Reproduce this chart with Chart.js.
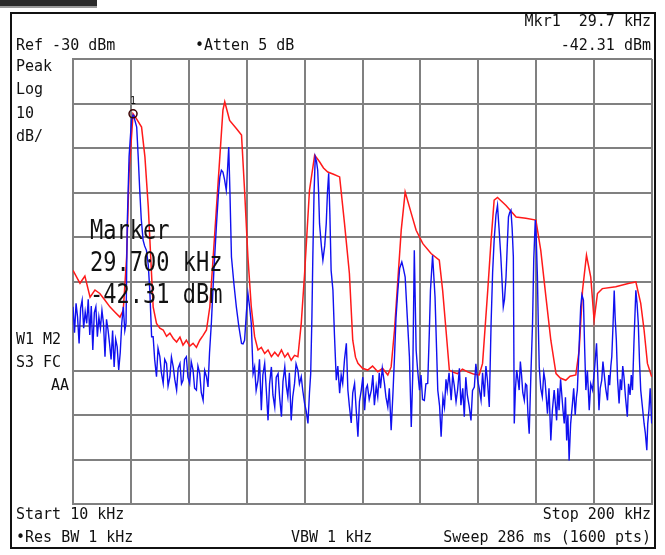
<!DOCTYPE html>
<html>
<head>
<meta charset="utf-8">
<script src="https://cdn.jsdelivr.net/npm/chart.js@4/dist/chart.umd.min.js"></script>
<style>
  html, body { margin: 0; padding: 0; background: #fff; }
  #wrap { width: 665px; height: 555px; }
</style>
</head>
<body>
<div id="wrap"><canvas id="spectrum" width="665" height="555"></canvas></div>
<script>
// frequency grid (kHz) and level grid (dBm)
const freqTicks = [10, 29, 48, 67, 86, 105, 124, 143, 162, 181, 200];
const levelTicks = [-130, -120, -110, -100, -90, -80, -70, -60, -50, -40, -30];

// max hold trace (red)
const redFreq = [10.0, 12.3, 13.9, 15.6, 17.2, 18.8, 20.5, 22.1, 23.8, 25.4, 26.5, 27.6, 28.4, 29.7, 30.9, 32.5, 33.6, 34.7, 35.5, 36.3,
  37.4, 38.5, 39.6, 40.7, 41.8, 42.9, 44.0, 45.1, 46.1, 47.2, 48.3, 49.4, 50.5, 51.6, 52.7, 53.8, 54.9, 56.0, 57.6, 59.2,
  59.8, 61.4, 63.6, 65.3, 66.3, 67.4, 68.5, 69.6, 70.7, 71.8, 72.9, 74.0, 75.1, 76.2, 77.3, 78.4, 79.5, 80.5, 81.6, 82.7,
  83.8, 84.9, 86.0, 87.6, 89.3, 90.9, 92.2, 93.6, 95.5, 97.5, 99.1, 100.7, 101.8, 102.7, 103.5, 105.0, 106.7, 108.3, 110.0, 111.6,
  113.3, 114.4, 115.5, 116.6, 117.7, 119.0, 121.0, 122.6, 124.8, 127.5, 130.2, 131.3, 132.4, 133.5, 134.8, 136.2, 137.8, 139.5, 141.4, 143.3,
  144.4, 146.1, 147.2, 148.2, 149.3, 152.1, 155.4, 158.6, 161.9, 163.5, 165.2, 166.8, 168.5, 169.9, 171.7, 173.1, 175.0, 176.1, 177.2, 178.5,
  179.9, 181.0, 182.1, 183.7, 188.1, 192.5, 194.7, 196.3, 197.4, 198.5, 199.9];
const redLevel = [-77.5, -80.4, -78.8, -83.5, -81.9, -82.7, -84.2, -85.7, -86.9, -88.0, -86.4, -74.5, -55.7, -42.3, -43.5, -45.3, -52.0, -63.2, -74.5, -85.7,
  -89.4, -90.5, -90.9, -92.3, -91.6, -92.8, -93.6, -92.5, -94.3, -93.2, -94.5, -93.9, -94.8, -93.2, -92.1, -90.9, -85.7, -74.5, -58.0, -41.5,
  -39.6, -43.8, -45.6, -47.1, -59.5, -74.5, -85.7, -92.4, -95.4, -94.8, -96.2, -95.4, -96.9, -95.9, -96.8, -95.4, -97.0, -96.1, -97.7, -96.6,
  -96.9, -89.4, -78.2, -59.5, -51.6, -53.1, -54.5, -55.4, -55.9, -56.5, -67.0, -78.2, -93.2, -97.0, -98.4, -99.5, -99.9, -99.0, -100.3, -99.5,
  -101.0, -99.2, -90.9, -79.7, -68.5, -59.9, -64.7, -68.5, -71.5, -73.7, -75.2, -82.0, -90.9, -99.9, -100.4, -100.7, -99.7, -100.3, -100.8, -101.0,
  -98.4, -82.0, -70.7, -61.7, -61.1, -62.9, -65.5, -65.8, -66.2, -73.0, -83.5, -93.2, -100.7, -101.7, -102.2, -101.3, -101.0, -95.4, -82.0, -74.1,
  -79.0, -88.7, -82.7, -81.6, -81.2, -80.4, -80.1, -84.9, -90.9, -98.4, -101.4];

// clear write trace (blue)
const blueFreq = [
  10.0, 10.5, 11.0, 11.5, 12.0, 12.5, 13.0, 13.5, 14.0, 14.5, 15.0, 15.5, 16.0, 16.5, 17.0, 17.5, 18.0, 18.5, 19.0, 19.5,
  20.0, 20.5, 21.0, 21.5, 22.0, 22.5, 23.0, 23.5, 24.0, 24.5, 25.0, 25.5, 26.0, 26.5, 27.0, 27.4,
  27.8, 28.4, 29.2, 29.7, 30.0, 30.9, 31.4, 31.9, 32.4, 33.0, 33.5, 34.1, 34.7, 35.2, 35.8,
  36.3, 36.8, 37.4, 37.9, 38.5, 39.0, 39.6, 40.1, 40.7, 41.2, 41.8, 42.3, 42.9, 43.4, 44.0, 44.5, 45.1, 45.6, 46.1, 46.6,
  47.2, 47.7, 48.3, 48.8, 49.4, 49.9, 50.5, 51.0, 51.6, 52.1, 52.7, 53.2, 53.8, 54.3,
  54.8, 55.4, 56.2, 57.1, 57.7, 58.2, 58.7, 59.2, 59.7, 60.3, 60.7, 61.1, 61.5, 62.0, 62.8, 63.6, 64.4, 65.3, 65.8, 66.3,
  66.9, 67.4, 68.0, 68.5, 69.1,
  69.6, 70.1, 70.7, 71.2, 71.8, 72.3, 72.9, 73.4, 74.0, 74.5, 75.1, 75.6, 76.2, 76.7, 77.3, 77.8, 78.4, 78.9, 79.5, 80.0,
  80.5, 81.0, 81.6, 82.1, 82.7, 83.2, 83.8, 84.3, 84.9, 85.4, 86.0, 86.5, 87.1, 87.6, 88.0,
  88.4, 88.7, 89.1, 89.5, 89.9, 90.3, 90.6, 90.9, 91.5, 92.0, 92.6, 93.1, 93.5, 93.9, 94.3, 94.7, 95.3, 95.8, 96.4,
  96.9, 97.5, 98.0, 98.5, 99.1, 99.7, 100.2, 100.7, 101.3, 101.8, 102.4, 102.9, 103.5, 104.0, 104.6, 105.1, 105.7, 106.2, 106.6, 107.2,
  107.9, 108.4, 108.9, 109.5, 110.0, 110.5, 110.9, 111.5, 112.2, 112.7, 113.3, 113.8, 114.4,
  115.0, 115.5, 116.0, 116.6, 117.2, 117.9, 118.4, 119.0, 119.7, 120.4, 121.0, 121.5, 122.0, 122.6, 123.1, 123.7, 124.2, 124.7, 125.3, 125.8,
  126.4, 126.9, 127.3, 128.0, 128.8, 129.3, 129.7, 130.3, 130.8,
  131.4, 131.9, 132.4, 132.8, 133.4, 134.1, 134.6, 135.1, 135.7, 136.2, 136.8, 137.3, 137.9, 138.4, 138.9, 139.4, 140.0, 140.6, 141.1, 141.7,
  142.2, 142.8, 143.3, 143.9, 144.4, 145.0, 145.5, 146.0, 146.6,
  147.2, 147.7, 148.2, 148.8, 149.3, 149.8, 150.4, 150.8, 151.2, 151.6, 152.1, 152.5, 152.9, 153.3, 153.7, 154.1, 154.5, 154.8, 155.2, 155.6,
  156.0, 156.4, 156.8, 157.2, 157.6, 158.1, 158.5, 158.9, 159.3, 159.7, 160.3, 160.8, 161.2, 161.7, 162.0, 162.4, 162.7, 163.0,
  163.5, 164.0, 164.5, 164.9, 165.3, 165.7, 166.2, 166.8, 167.3, 167.9, 168.3, 168.7, 169.1, 169.5, 170.0, 170.4, 170.8, 171.2, 171.6, 172.0,
  172.4, 172.8, 173.3, 173.9, 174.3, 174.8, 175.2, 175.5, 176.0,
  176.6, 177.0, 177.5, 177.9, 178.3, 178.8, 179.4, 179.9, 180.5, 181.1, 181.8, 182.2, 182.6, 183.0, 183.5, 183.9, 184.3, 184.8, 185.4, 185.8,
  186.1, 186.5, 186.8, 187.2, 187.6, 187.9, 188.3, 188.7, 189.2, 189.6, 190.0, 190.4, 190.8, 191.3, 191.9, 192.3, 192.8, 193.2, 193.6, 194.1,
  194.7, 195.1, 195.5, 195.9, 196.3, 196.8, 197.4, 197.8, 198.3, 198.6, 199.0, 199.4, 199.9];
const blueLevel = [
  -85.7, -91.5, -84.9, -88.0, -93.9, -86.0, -84.2, -90.5, -86.8, -89.4, -84.0, -92.0, -85.5, -95.4, -87.0, -85.7, -92.4, -88.0, -90.5, -86.5,
  -89.4, -96.9, -88.5, -90.9, -94.0, -97.5, -91.0, -99.2, -93.0, -94.7, -99.9, -96.0, -89.4, -85.7, -91.0, -89.4,
  -67.0, -52.0, -43.8, -42.6, -43.0, -45.3, -52.0, -59.5, -66.0, -70.7, -72.0, -73.0, -76.3, -82.0, -92.4,
  -92.4, -97.5, -101.4, -95.0, -96.9, -100.5, -102.9, -97.5, -98.4, -103.5, -101.4, -97.0, -99.2, -102.0, -104.4, -99.5, -98.4, -103.0, -102.2, -97.5,
  -96.9, -101.5, -102.9, -98.0, -99.9, -104.0, -104.4, -99.0, -100.7, -105.0, -106.7, -100.0, -101.4, -103.7,
  -96.0, -89.4, -78.0, -67.0, -60.5, -56.5, -55.0, -55.4, -57.0, -59.5, -55.0, -49.8, -60.0, -74.5, -80.5, -85.7, -90.0, -93.9, -94.0, -93.2,
  -87.0, -82.7, -86.0, -89.4, -100.7,
  -99.2, -104.5, -102.2, -97.5, -108.9, -101.0, -98.4, -104.0, -111.2, -103.0, -99.2, -105.5, -108.2, -101.5, -100.7, -106.0, -110.4, -102.5, -99.2, -103.5,
  -105.9, -100.5, -111.2, -106.0, -102.9, -98.5, -99.9, -103.0, -101.4, -104.5, -107.4, -109.0, -111.9, -105.0, -100.7,
  -88.0, -74.5, -60.0, -52.0, -53.0, -55.0, -60.0, -67.0, -72.0, -75.2, -72.0, -67.0, -60.0, -55.7, -65.0, -77.5, -82.0, -92.0, -102.2,
  -99.0, -105.1, -101.0, -102.9, -97.5, -93.9, -104.4, -108.0, -111.8, -105.0, -102.9, -108.5, -114.9, -107.0, -104.4, -101.5, -108.9, -104.0, -103.3, -106.5,
  -104.4, -101.0, -107.8, -103.5, -105.9, -100.5, -104.0, -99.5, -102.9, -106.0, -108.2, -104.0, -113.4,
  -105.0, -96.9, -88.0, -82.0, -77.0, -75.6, -77.0, -79.0, -88.0, -96.9, -112.7, -100.7, -73.0, -95.4, -100.0, -104.4, -101.0, -106.5, -106.7, -103.0,
  -102.9, -92.0, -82.0, -74.1, -83.5, -95.0, -104.4, -108.0, -114.9,
  -106.0, -108.2, -102.0, -104.4, -100.5, -106.7, -101.0, -103.3, -107.0, -104.4, -99.5, -107.8, -104.0, -110.4, -101.5, -105.5, -108.0, -111.2, -104.5, -103.7,
  -98.5, -102.2, -104.0, -106.7, -100.5, -105.9, -99.0, -102.2, -108.2,
  -89.4, -78.0, -70.7, -65.0, -62.9, -68.0, -74.5, -80.0, -85.7, -84.0, -79.0, -72.0, -65.5, -64.5, -64.0, -68.0, -74.5, -111.9, -104.0, -99.9,
  -102.0, -104.4, -98.0, -101.1, -105.0, -106.7, -103.0, -103.3, -110.0, -114.2, -100.0, -89.4, -75.0, -66.2, -70.0, -79.0, -90.0, -99.2,
  -104.0, -105.9, -100.5, -102.2, -106.0, -109.7, -104.0, -115.7, -109.0, -104.4, -107.5, -111.2, -104.0, -108.9, -102.0, -105.5, -109.0, -111.9, -106.0, -115.7,
  -110.0, -120.2, -112.0, -107.4, -104.0, -110.0, -106.0, -104.4, -96.0,
  -85.7, -83.0, -84.2, -95.0, -104.4, -100.0, -108.9, -103.0, -104.4, -100.0, -93.9, -101.0, -108.9, -104.0, -102.2, -98.0, -100.7, -104.0, -106.7, -101.0,
  -103.3, -99.0, -96.9, -90.0, -82.0, -88.0, -93.2, -102.0, -107.4, -102.0, -104.4, -99.0, -101.4, -106.0, -110.4, -103.0, -105.5, -101.0, -104.4, -93.2,
  -82.0, -85.0, -89.4, -98.0, -104.4, -107.8, -111.9, -114.0, -117.9, -112.0, -108.9, -104.0, -111.9];

// marker 1
const markerFreq = [29.7];
const markerLevel = [-42.31];

const toPoints = (xs, ys) => xs.map((x, i) => ({ x: x, y: ys[i] }));

const MONO = "'DejaVu Sans Mono', 'Liberation Mono', monospace";

const annotate = {
  id: "annotate",
  beforeDraw(chart) {
    const c = chart.ctx;
    c.save();
    c.fillStyle = "#fff";
    c.fillRect(0, 0, chart.width, chart.height);
    // tab in the top left corner
    c.fillStyle = "#2b2b2b";
    c.fillRect(0, 0, 97, 7);
    c.fillStyle = "#9a9a9a";
    c.fillRect(0, 6, 97, 2);
    // instrument frame
    c.strokeStyle = "#111";
    c.lineWidth = 2;
    c.strokeRect(11, 13, 644, 535);
    c.restore();
  },
  afterDraw(chart) {
    const c = chart.ctx;
    c.save();
    c.fillStyle = "#111";
    c.font = "15px " + MONO;
    c.textBaseline = "middle";

    c.textAlign = "left";
    c.fillText("Ref -30 dBm", 16, 46);
    c.fillText("\u2022Atten 5 dB", 195, 46);
    ["Peak", "Log", "10", "dB/"].forEach((t, i) => c.fillText(t, 16, 67 + i * 23.5));
    c.fillText("W1 M2", 16, 340);
    c.fillText("S3 FC", 16, 363);
    c.fillText("Start 10 kHz", 16, 515);
    c.fillText("\u2022Res BW 1 kHz", 16, 538);
    c.fillText("VBW 1 kHz", 291, 538);

    c.textAlign = "right";
    c.fillText("Mkr1  29.7 kHz", 651, 22);
    c.fillText("-42.31 dBm", 651, 46);
    c.fillText("AA", 69, 386);
    c.fillText("Stop 200 kHz", 651, 515);
    c.fillText("Sweep 286 ms (1600 pts)", 651, 538);

    // marker readout, a tall narrow font on the instrument
    c.textAlign = "left";
    c.font = "22px " + MONO;
    c.save();
    c.scale(1, 1.22);
    c.fillText("Marker", 90, 232 / 1.22);
    c.fillText("29.700 kHz", 90, 264 / 1.22);
    c.fillText("-42.31 dBm", 90, 296 / 1.22);
    c.restore();

    // marker number
    const px = chart.scales.x.getPixelForValue(markerFreq[0]);
    const py = chart.scales.y.getPixelForValue(markerLevel[0]);
    c.font = "10px " + MONO;
    c.textAlign = "center";
    c.fillText("1", px, py - 12);
    c.restore();
  }
};

const gridColor = "#808080";

new Chart(document.getElementById("spectrum"), {
  type: "line",
  data: {
    datasets: [
      {
        label: "Marker",
        data: toPoints(markerFreq, markerLevel),
        showLine: false,
        pointRadius: 4,
        pointBorderWidth: 1.5,
        pointBorderColor: "#3a0000",
        pointBackgroundColor: "rgba(0,0,0,0)",
        order: 0
      },
      {
        label: "Trace 2",
        data: toPoints(blueFreq, blueLevel),
        borderColor: "#1010f0",
        borderWidth: 1.4,
        pointRadius: 0,
        tension: 0,
        order: 1
      },
      {
        label: "Trace 1",
        data: toPoints(redFreq, redLevel),
        borderColor: "#ff1a1a",
        borderWidth: 1.5,
        pointRadius: 0,
        tension: 0,
        order: 2
      }
    ]
  },
  options: {
    responsive: false,
    animation: false,
    devicePixelRatio: 1,
    layout: { padding: { left: 73, right: 13, top: 59, bottom: 51 } },
    plugins: {
      legend: { display: false },
      tooltip: { enabled: false }
    },
    scales: {
      x: {
        type: "linear",
        min: 10,
        max: 200,
        afterBuildTicks: s => { s.ticks = freqTicks.map(v => ({ value: v })); },
        ticks: { display: false },
        grid: { color: gridColor, lineWidth: 2, drawTicks: false },
        border: { color: gridColor, width: 2 }
      },
      y: {
        min: -130,
        max: -30,
        afterBuildTicks: s => { s.ticks = levelTicks.map(v => ({ value: v })); },
        ticks: { display: false },
        grid: { color: gridColor, lineWidth: 2, drawTicks: false },
        border: { color: gridColor, width: 2 }
      }
    }
  },
  plugins: [annotate]
});
</script>
</body>
</html>
